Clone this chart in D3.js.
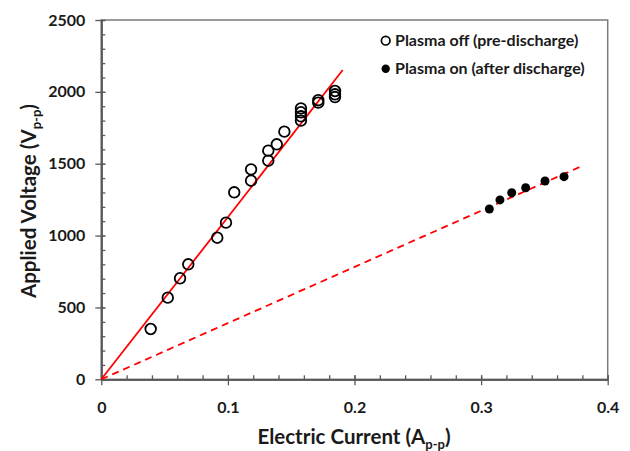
<!DOCTYPE html>
<html>
<head>
<meta charset="utf-8">
<script src="https://cdn.jsdelivr.net/npm/d3@7"></script>
<style>
  html, body { margin: 0; padding: 0; background: #fff; }
  svg { display: block; font-family: Lato, "Open Sans", sans-serif; font-weight: bold; }
</style>
</head>
<body>
<svg id="chart" width="630" height="451"></svg>
<script>
// ---- Data ----
const offCurrent = [0.039, 0.0525, 0.0622, 0.0687, 0.0916, 0.0985, 0.105, 0.1183, 0.1183, 0.1319, 0.1319, 0.1386, 0.1446, 0.1577, 0.1577, 0.1577, 0.1577, 0.1714, 0.1714, 0.1846, 0.1846, 0.1846];
const offVoltage = [350, 568, 703, 800, 985, 1090, 1301, 1382, 1461, 1521, 1591, 1635, 1723, 1800, 1830, 1858, 1885, 1925, 1942, 1964, 1983, 2006];
const onCurrent = [0.3065, 0.3149, 0.3242, 0.3352, 0.3505, 0.3655];
const onVoltage = [1185, 1248, 1298, 1333, 1380, 1410];
const fitOff = [[0, 0], [0.1907, 2152]];
const fitOn = [[0, 0], [0.3802, 1486]];
const xTicks = [0, 0.1, 0.2, 0.3, 0.4];
const yTicks = [0, 500, 1000, 1500, 2000, 2500];
const legendLabels = ["Plasma off (pre-discharge)", "Plasma on (after discharge)"];

// ---- Layout ----
const svg = d3.select("#chart");
const x = d3.scaleLinear().domain([0, 0.4]).range([101.3, 607.7]);
const y = d3.scaleLinear().domain([0, 2500]).range([379.3, 20]);
const axisColor = "#595959";
const textColor = "#1a1a1a";

// plot frame
svg.append("rect")
  .attr("x", x(0)).attr("y", y(2500))
  .attr("width", x(0.4) - x(0)).attr("height", y(0) - y(2500))
  .attr("fill", "none").attr("stroke", "#7a7a7a").attr("stroke-width", 1.5);

// minor ticks (inward)
const xMinor = d3.range(0, 0.4001, 0.02);
const yMinor = d3.range(0, 2500.1, 100);
const xAxisMinor = d3.axisBottom(x).tickValues(xMinor).tickSizeInner(-4).tickSizeOuter(0).tickFormat("");
const yAxisMinor = d3.axisLeft(y).tickValues(yMinor).tickSizeInner(-4).tickSizeOuter(0).tickFormat("");
svg.append("g").attr("transform", `translate(0,${y(0)})`).call(xAxisMinor);
svg.append("g").attr("transform", `translate(${x(0)},0)`).call(yAxisMinor);

// major ticks (crossing)
const xAxis = d3.axisBottom(x).tickValues(xTicks).tickSizeInner(6).tickSizeOuter(0)
  .tickPadding(16).tickFormat(d => d === 0 ? "0" : d3.format(".1f")(d));
const yAxis = d3.axisLeft(y).tickValues(yTicks).tickSizeInner(6).tickSizeOuter(0)
  .tickPadding(10).tickFormat(d3.format("d"));
const gx = svg.append("g").attr("transform", `translate(0,${y(0)})`).call(xAxis);
const gy = svg.append("g").attr("transform", `translate(${x(0)},0)`).call(yAxis);
// inward part of major ticks
gx.selectAll(".tick").append("line").attr("y1", 0).attr("y2", -4);
gy.selectAll(".tick").append("line").attr("x1", 0).attr("x2", 4);

svg.selectAll(".domain").attr("stroke", axisColor).attr("stroke-width", 1.8);
svg.selectAll(".tick line").attr("stroke", axisColor).attr("stroke-width", 1.3);
svg.selectAll(".tick text").attr("fill", textColor)
  .style("font-family", "Lato, sans-serif").style("font-weight", "bold").style("font-size", "16px");

// fit lines
const line = d3.line().x(d => x(d[0])).y(d => y(d[1]));
svg.append("path").datum(fitOn).attr("d", line)
  .attr("fill", "none").attr("stroke", "#ff0000").attr("stroke-width", 1.8)
  .attr("stroke-dasharray", "7,5");
svg.append("path").datum(fitOff).attr("d", line)
  .attr("fill", "none").attr("stroke", "#ff0000").attr("stroke-width", 1.8);

// points
svg.append("g").selectAll("circle").data(d3.zip(offCurrent, offVoltage)).join("circle")
  .attr("cx", d => x(d[0])).attr("cy", d => y(d[1])).attr("r", 5.3)
  .attr("fill", "none").attr("stroke", "#000").attr("stroke-width", 1.8);
svg.append("g").selectAll("circle").data(d3.zip(onCurrent, onVoltage)).join("circle")
  .attr("cx", d => x(d[0])).attr("cy", d => y(d[1])).attr("r", 4.5)
  .attr("fill", "#000");

// legend
const lg = svg.append("g");
lg.append("circle").attr("cx", 385.7).attr("cy", 40.7).attr("r", 4.3)
  .attr("fill", "none").attr("stroke", "#000").attr("stroke-width", 1.7);
lg.append("circle").attr("cx", 385.7).attr("cy", 68.7).attr("r", 4.2)
  .attr("fill", "#000");
lg.append("text").attr("x", 395).attr("y", 46).attr("fill", textColor)
  .style("font-size", "16px").text(legendLabels[0]);
lg.append("text").attr("x", 395).attr("y", 74).attr("fill", textColor)
  .style("font-size", "16px").text(legendLabels[1]);

// axis titles
const xt = svg.append("text").attr("x", 354).attr("y", 444).attr("text-anchor", "middle")
  .attr("fill", textColor).style("font-size", "20.5px");
xt.append("tspan").text("Electric Current (A");
xt.append("tspan").attr("dy", 5).style("font-size", "13px").text("p-p");
xt.append("tspan").attr("dy", -5).text(")");

const yt = svg.append("text").attr("transform", "translate(36,201) rotate(-90)")
  .attr("text-anchor", "middle").attr("fill", textColor).style("font-size", "20.5px");
yt.append("tspan").text("Applied Voltage (V");
yt.append("tspan").attr("dy", 5).style("font-size", "13px").text("p-p");
yt.append("tspan").attr("dy", -5).text(")");
</script>
</body>
</html>
